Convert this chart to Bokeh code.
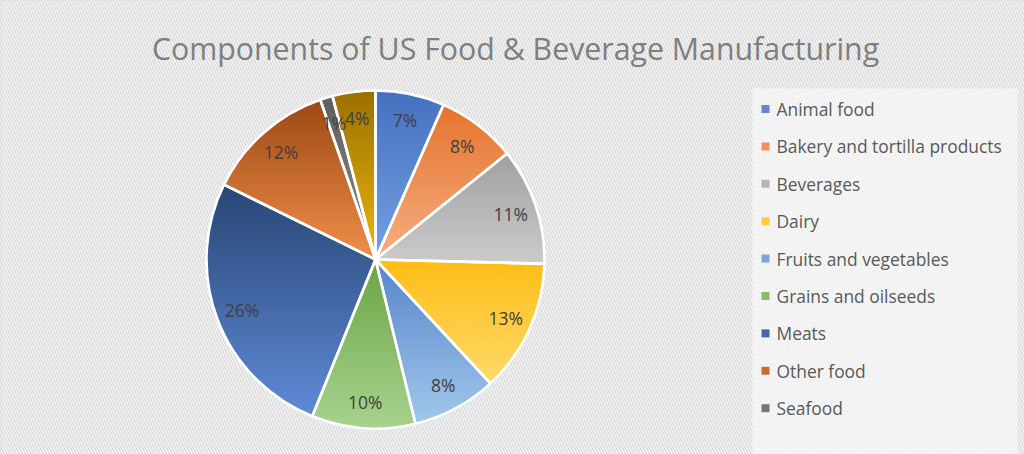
import numpy as np
from bokeh.plotting import figure
from bokeh.models import Range1d
from bokeh.core.properties import value
from bokeh.embed import file_html
from bokeh.resources import INLINE

# ---------------- data ----------------
title = "Components of US Food & Beverage Manufacturing"
categories = ["Animal food", "Bakery and tortilla products", "Beverages", "Dairy",
              "Fruits and vegetables", "Grains and oilseeds", "Meats", "Other food",
              "Seafood", "Sugar and confectionery products"]
values = [6.6, 7.6, 11.2, 12.7, 8.1, 9.9, 26.2, 12.4, 1.2, 4.1]
legend_shown = 9  # the legend box only shows the first nine entries

# ---------------- styles ----------------
top_colors = ["#4570c0", "#e5732b", "#a0a0a0", "#ffbd14", "#5584c8",
              "#6aa544", "#294575", "#9c4813", "#5e5e5e", "#9a6f00"]
bot_colors = ["#74a1e2", "#f6ae84", "#cbcbcb", "#ffd96a", "#a2c7ec",
              "#a8d28e", "#5e8ad6", "#f08f4a", "#8e8e8e", "#eeb70e"]
font = value("Open Sans")

W, H = 1024, 454
p = figure(width=W, height=H, x_range=Range1d(0, W), y_range=Range1d(0, H),
           output_backend="svg", toolbar_location=None, min_border=0,
           x_axis_location=None, y_axis_location=None)
p.grid.visible = False
p.outline_line_color = "#d9d9d9"
p.background_fill_color = "white"
p.border_fill_color = "white"

# hatched background
p.quad(left=[0], right=[W], bottom=[0], top=[H], fill_color="white", line_color=None,
       hatch_pattern="\\", hatch_color="#dcdcdc", hatch_scale=6, hatch_weight=1.8)

# legend box (semi transparent white)
p.quad(left=[752], right=[1017], bottom=[0], top=[366], fill_color="white",
       fill_alpha=0.5, line_color=None)

# ---------------- pie ----------------
cx, cy, R = 375.0, 195.0, 169.0
vals = np.array(values, dtype=float)
frac = vals / vals.sum()
ends = np.cumsum(frac) * 2 * np.pi
starts = ends - frac * 2 * np.pi


def hex2rgb(h):
    h = h.lstrip("#")
    return np.array([int(h[i:i + 2], 16) for i in (0, 2, 4)], dtype=float)


def mix(c1, c2, t):
    c = hex2rgb(c1) * (1 - t) + hex2rgb(c2) * t
    return "#%02x%02x%02x" % tuple(int(round(v)) for v in c)


def clip(pts, yc, above):
    out = []
    n = len(pts)
    for i in range(n):
        P, Q = pts[i], pts[(i + 1) % n]
        inP = P[1] >= yc if above else P[1] <= yc
        inQ = Q[1] >= yc if above else Q[1] <= yc
        if inP:
            out.append(P)
        if inP != inQ:
            t = (yc - P[1]) / (Q[1] - P[1])
            out.append((P[0] + t * (Q[0] - P[0]), yc))
    return out


xs, ys, cols = [], [], []
NB = 36
for i in range(len(vals)):
    a0, a1 = starts[i], ends[i]
    n = max(3, int(np.degrees(a1 - a0) / 1.5))
    th = np.linspace(a0, a1, n)
    poly = [(cx, cy)] + [(cx + R * np.sin(t), cy + R * np.cos(t)) for t in th]
    ymin = min(q[1] for q in poly)
    ymax = max(q[1] for q in poly)
    h = (ymax - ymin) / NB
    for k in range(NB):
        yhi = ymax - k * h + 0.4
        ylo = ymax - (k + 1) * h - 0.4
        part = clip(clip(poly, ylo, True), yhi, False)
        if len(part) < 3:
            continue
        xs.append([q[0] for q in part])
        ys.append([q[1] for q in part])
        cols.append(mix(top_colors[i], bot_colors[i], (k + 0.5) / NB))

p.patches(xs=xs, ys=ys, fill_color=cols, line_color=None)

# white separators / outline
p.wedge(x=cx, y=cy, radius=R, start_angle=list(np.pi / 2 - starts),
        end_angle=list(np.pi / 2 - ends), direction="clock",
        fill_color=None, line_color="white", line_width=2.6)

# percentage labels
mid = (starts + ends) / 2
rl = 0.845 * R
labels = ["%d%%" % int(round(f * 100)) for f in frac]
p.text(x=list(cx + rl * np.sin(mid)), y=list(cy + rl * np.cos(mid)), text=labels,
       text_align="center", text_baseline="middle", text_font=font,
       text_font_size="17.5px", text_color="#404040")

# title
p.text(x=[515], y=[406], text=[title], text_align="center", text_baseline="alphabetic",
       text_font=font, text_font_size="30.3px", text_color="#7f7f7f")

# legend
idx = np.arange(legend_shown)
ly = 454 - (108.5 + 37.4 * idx)
leg_cols = [mix(top_colors[i], bot_colors[i], 0.5) for i in idx]
p.rect(x=[765] * legend_shown, y=list(ly), width=8, height=8,
       fill_color=leg_cols, line_color=None)
p.text(x=[776] * legend_shown, y=list(ly), text=categories[:legend_shown],
       text_align="left", text_baseline="middle", text_font=font,
       text_font_size="17.4px", text_color="#595959")

open("out.html", "w").write(file_html(p, INLINE))
